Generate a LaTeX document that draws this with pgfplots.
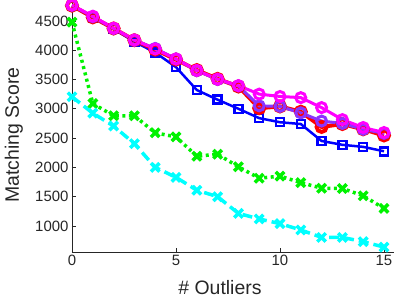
\documentclass[border=0pt]{standalone}
\usepackage{pgfplots}
\pgfplotsset{compat=1.18}
\usepackage{fontspec}
\setmainfont{Liberation Sans}
\definecolor{mgray}{rgb}{0.15,0.15,0.15}
\definecolor{mpurple}{rgb}{0.55,0.2,1}
\definecolor{mgreen}{rgb}{0,0.95,0}
\definecolor{mcyan}{rgb}{0,1,1}
\definecolor{mmag}{rgb}{1,0,1}
\definecolor{mred}{rgb}{1,0,0}
\definecolor{mblue}{rgb}{0,0,1}
\begin{document}
\begin{tikzpicture}
\begin{axis}[
  scale only axis, width=322.4bp, height=252bp,
  xmin=0, xmax=15.5, ymin=556, ymax=4856,
  axis lines=left, axis line style={-, mgray, line width=0.6bp},
  tick align=inside, major tick length=4bp,
  tick style={mgray, line width=0.6bp},
  xtick={0,5,10,15}, ytick={1000,1500,2000,2500,3000,3500,4000,4500},
  tick label style={font=\fontsize{15}{17}\selectfont, text=mgray},
  scaled ticks=false, /pgf/number format/1000 sep={},
  /pgf/number format/assume math mode=true,
  xlabel={\# Outliers}, ylabel={Matching Score},
  label style={font=\fontsize{19.5}{22}\selectfont, text=mgray},
  xlabel style={at={(axis description cs:0.459,-0.1706)}, anchor=base},
  ylabel style={at={(axis description cs:-0.1644,0.464)}, anchor=base, rotate=0},
  clip=false,
]
\addplot[mgreen, line width=3.5bp, dash pattern=on 3bp off 3.5bp, mark=x, mark size=6bp, mark options={solid, line width=3.5bp}] coordinates {
(0,4480)(1,3090)(2,2880)(3,2880)(4,2590)(5,2520)(6,2190)(7,2225)(8,2010)(9,1815)(10,1850)(11,1740)(12,1645)(13,1640)(14,1515)(15,1300)};
\addplot[mcyan, line width=3.5bp, dash pattern=on 10bp off 5bp, mark=x, mark size=6bp, mark options={solid, line width=3.5bp}] coordinates {
(0,3205)(1,2925)(2,2705)(3,2405)(4,2000)(5,1830)(6,1610)(7,1500)(8,1215)(9,1120)(10,1040)(11,932)(12,805)(13,805)(14,732)(15,640)};
\addplot[mblue, line width=2.5bp, mark=square, mark size=4bp, mark options={solid, line width=2.5bp}] coordinates {
(0,4750)(1,4560)(2,4360)(3,4145)(4,3960)(5,3710)(6,3320)(7,3155)(8,3000)(9,2840)(10,2770)(11,2740)(12,2450)(13,2385)(14,2350)(15,2275)};
\addplot[mred, line width=4bp, mark=o, mark size=5bp, mark options={solid, line width=4bp}] coordinates {
(0,4760)(1,4560)(2,4370)(3,4170)(4,4010)(5,3840)(6,3660)(7,3510)(8,3380)(9,3010)(10,3040)(11,2950)(12,2690)(13,2740)(14,2650)(15,2545)};
\addplot[mpurple, line width=3bp, mark=o, mark size=5bp, mark options={solid, line width=3bp}] coordinates {
(0,4765)(1,4570)(2,4370)(3,4170)(4,4030)(5,3850)(6,3650)(7,3500)(8,3390)(9,3050)(10,3040)(11,2930)(12,2790)(13,2750)(14,2650)(15,2580)};
\addplot[mmag, line width=3bp, mark=o, mark size=5bp, mark options={solid, line width=3bp}] coordinates {
(0,4770)(1,4580)(2,4375)(3,4175)(4,4020)(5,3850)(6,3655)(7,3505)(8,3395)(9,3250)(10,3210)(11,3190)(12,3020)(13,2815)(14,2680)(15,2595)};
\end{axis}
\pgfresetboundingbox
\path ([xshift=-72bp,yshift=-49bp]current axis.south west) rectangle ([xshift=0.6bp]current axis.north east);
\end{tikzpicture}
\end{document}
